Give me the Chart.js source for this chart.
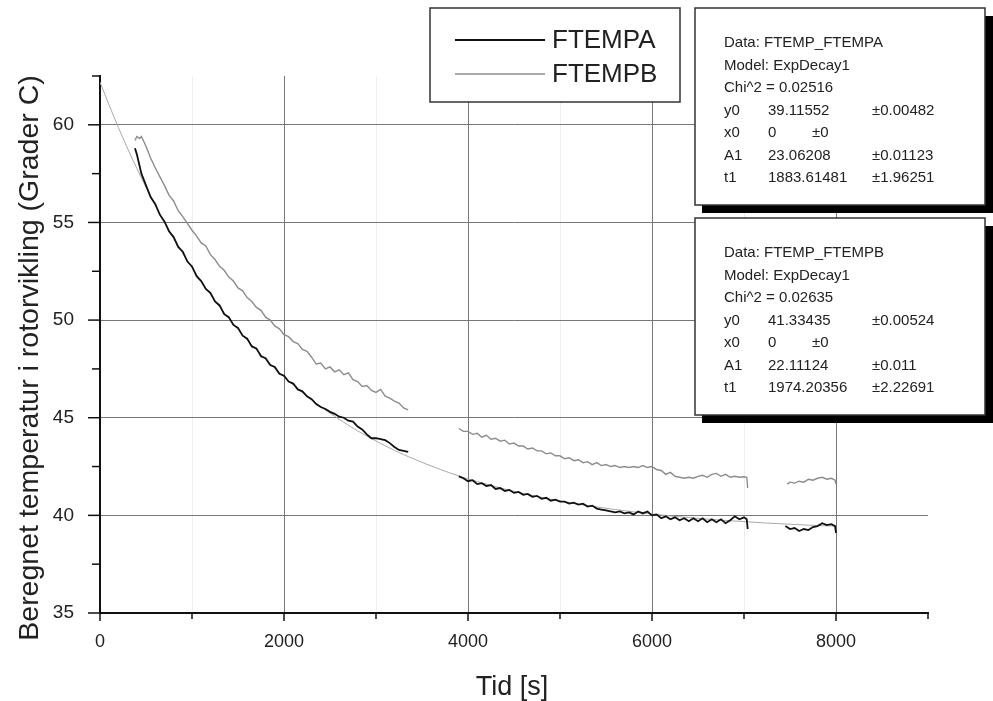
<!DOCTYPE html>
<html>
<head>
<meta charset="utf-8">
<script src="https://cdn.jsdelivr.net/npm/chart.js@4.4.0/dist/chart.umd.min.js"></script>
<style>
  html, body { margin: 0; padding: 0; background: #fff; }
</style>
</head>
<body>
<canvas id="c" width="993" height="701"></canvas>
<script>
// FTEMPA (null = gap in the record)
var timeA = [380, 400, 450, 500, 550, 600, 650, 700, 750, 800, 850, 900, 950, 1000, 1050, 1100, 1150, 1200, 1250, 1300,
  1350, 1400, 1450, 1500, 1550, 1600, 1650, 1700, 1750, 1800, 1850, 1900, 1950, 2000, 2050, 2100, 2150, 2200, 2250, 2300,
  2350, 2400, 2450, 2500, 2550, 2600, 2650, 2700, 2750, 2800, 2850, 2900, 2950, 3000, 3050, 3100, 3150, 3200, 3250, 3300, 3350,
  3600,
  3900, 3950, 4000, 4050, 4100, 4150, 4200, 4250, 4300, 4350, 4400, 4450, 4500, 4550, 4600, 4650, 4700, 4750, 4800, 4850,
  4900, 4950, 5000, 5050, 5100, 5150, 5200, 5250, 5300, 5350, 5400, 5450, 5500, 5550, 5600, 5650, 5700, 5750, 5800, 5850,
  5900, 5950, 6000, 6050, 6100, 6150, 6200, 6250, 6300, 6350, 6400, 6450, 6500, 6550, 6600, 6650, 6700, 6750, 6800, 6850,
  6900, 6950, 7000, 7030, 7040,
  7250,
  7450, 7500, 7550, 7600, 7650, 7700, 7750, 7800, 7850, 7900, 7950, 7990, 8000]
var tempA = [58.8, 58.5, 57.5, 56.9, 56.3, 55.95, 55.4, 55.05, 54.55, 54.25, 53.75, 53.5, 53.0, 52.75, 52.25, 52.0, 51.6, 51.4, 50.95, 50.75,
  50.3, 50.15, 49.75, 49.6, 49.2, 49.05, 48.65, 48.55, 48.15, 48.05, 47.7, 47.6, 47.25, 47.15, 46.85, 46.75, 46.45, 46.35, 46.1, 45.95,
  45.7, 45.55, 45.45, 45.3, 45.2, 45.05, 45.0, 44.85, 44.8, 44.55, 44.4, 44.15, 43.95, 43.95, 43.9, 43.85, 43.7, 43.5, 43.35, 43.3, 43.25,
  null,
  42.0, 41.9, 41.75, 41.8, 41.6, 41.65, 41.5, 41.55, 41.35, 41.4, 41.25, 41.3, 41.15, 41.2, 41.05, 41.1, 40.95, 41.0, 40.85, 40.9,
  40.75, 40.8, 40.7, 40.7, 40.6, 40.65, 40.55, 40.6, 40.45, 40.5, 40.35, 40.3, 40.25, 40.2, 40.15, 40.2, 40.1, 40.15, 40.05, 40.2,
  40.1, 40.2, 40.0, 40.05, 39.85, 39.95, 39.8, 39.9, 39.75, 39.85, 39.7, 39.85, 39.7, 39.85, 39.65, 39.8, 39.65, 39.8, 39.6, 39.75,
  39.95, 39.8, 39.9, 39.8, 39.3,
  null,
  39.45, 39.3, 39.35, 39.2, 39.3, 39.25, 39.4, 39.45, 39.6, 39.5, 39.55, 39.45, 39.1]

// FTEMPB
var timeB = [380, 400, 430, 450, 500, 550, 600, 650, 700, 750, 800, 850, 900, 950, 1000, 1050, 1100, 1150, 1200, 1250, 1300,
  1350, 1400, 1450, 1500, 1550, 1600, 1650, 1700, 1750, 1800, 1850, 1900, 1950, 2000, 2050, 2100, 2150, 2200, 2250, 2300,
  2350, 2400, 2450, 2500, 2550, 2600, 2650, 2700, 2750, 2800, 2850, 2900, 2950, 3000, 3050, 3100, 3150, 3200, 3250, 3300, 3350,
  3600,
  3900, 3950, 4000, 4050, 4100, 4150, 4200, 4250, 4300, 4350, 4400, 4450, 4500, 4550, 4600, 4650, 4700, 4750, 4800, 4850,
  4900, 4950, 5000, 5050, 5100, 5150, 5200, 5250, 5300, 5350, 5400, 5450, 5500, 5550, 5600, 5650, 5700, 5750, 5800, 5850,
  5900, 5950, 6000, 6050, 6100, 6150, 6200, 6250, 6300, 6350, 6400, 6450, 6500, 6550, 6600, 6650, 6700, 6750, 6800, 6850,
  6900, 6950, 7000, 7030, 7040,
  7250,
  7470, 7500, 7550, 7600, 7650, 7700, 7750, 7800, 7850, 7900, 7950, 7990, 8000]
var tempB = [59.2, 59.4, 59.3, 59.4, 58.9, 58.3, 57.8, 57.35, 56.9, 56.4, 56.1, 55.6, 55.3, 54.95, 54.6, 54.3, 53.95, 53.8, 53.35, 53.1, 52.75,
  52.55, 52.2, 52.0, 51.65, 51.5, 51.15, 50.95, 50.65, 50.5, 50.15, 50.0, 49.7, 49.55, 49.25, 49.15, 48.9, 48.8, 48.5, 48.4, 48.1,
  47.75, 47.8, 47.5, 47.6, 47.35, 47.45, 47.2, 47.3, 46.95, 46.85, 46.6, 46.65, 46.4, 46.3, 46.45, 46.1, 46.0, 45.85, 45.75, 45.5, 45.4,
  null,
  44.45, 44.3, 44.3, 44.15, 44.2, 44.0, 44.1, 43.9, 43.95, 43.8, 43.85, 43.65, 43.7, 43.55, 43.55, 43.4, 43.45, 43.3, 43.3, 43.15,
  43.2, 43.05, 43.05, 42.9, 42.95, 42.8, 42.85, 42.7, 42.75, 42.6, 42.7, 42.55, 42.6, 42.5, 42.55, 42.45, 42.5, 42.45, 42.5, 42.45,
  42.55, 42.45, 42.5, 42.35, 42.3, 42.1, 42.2, 42.0, 41.95, 41.9, 41.95, 41.9, 42.0, 42.05, 41.95, 42.1, 42.15, 42.0, 42.1, 41.95,
  42.0, 41.95, 41.98, 41.95, 41.4,
  null,
  41.6, 41.7, 41.65, 41.75, 41.7, 41.85, 41.8, 41.9, 41.95, 41.85, 41.9, 41.8, 41.6]

// ExpDecay1 fit curve of FTEMPA, read at every 200 s
var fitTime = [0, 200, 400, 600, 800, 1000, 1200, 1400, 1600, 1800, 2000, 2200, 2400, 2600, 2800, 3000, 3200, 3400, 3600, 3800,
  4000, 4200, 4400, 4600, 4800, 5000, 5200, 5400, 5600, 5800, 6000, 6200, 6400, 6600, 6800, 7000, 7200, 7400, 7600, 7800, 8000]
var fitA = [62.18, 59.86, 57.77, 55.89, 54.2, 52.68, 51.31, 50.08, 48.98, 47.99, 47.09, 46.29, 45.57, 44.92, 44.33, 43.81, 43.33, 42.91, 42.53, 42.18,
  41.87, 41.6, 41.35, 41.12, 40.92, 40.74, 40.57, 40.43, 40.3, 40.18, 40.07, 39.97, 39.89, 39.81, 39.74, 39.68, 39.62, 39.57, 39.52, 39.48, 39.45]

var xLabels = [0, 2000, 4000, 6000, 8000]
var yLabels = [35, 40, 45, 50, 55, 60]

var statsA = [
  ['Data: FTEMP_FTEMPA'],
  ['Model: ExpDecay1'],
  ['Chi^2 = 0.02516'],
  ['y0', '39.11552', '', '±0.00482'],
  ['x0', '0', '±0', ''],
  ['A1', '23.06208', '', '±0.01123'],
  ['t1', '1883.61481', '', '±1.96251']
]
var statsB = [
  ['Data: FTEMP_FTEMPB'],
  ['Model: ExpDecay1'],
  ['Chi^2 = 0.02635'],
  ['y0', '41.33435', '', '±0.00524'],
  ['x0', '0', '±0', ''],
  ['A1', '22.11124', '', '±0.011'],
  ['t1', '1974.20356', '', '±2.22691']
]

var FONT = '"Liberation Sans", Arial, sans-serif'

function pts(t, v) {
  return t.map(function (x, i) { return { x: x, y: v[i] } })
}

function drawStats(ctx, top, rows) {
  ctx.fillStyle = '#000'
  ctx.fillRect(702, top + 8, 300, 197)
  ctx.fillStyle = '#fff'
  ctx.fillRect(695, top, 290, 197)
  ctx.strokeStyle = '#333'
  ctx.lineWidth = 1.5
  ctx.strokeRect(695, top, 290, 197)
  ctx.fillStyle = '#222'
  ctx.font = '15px ' + FONT
  ctx.textAlign = 'left'
  ctx.textBaseline = 'middle'
  var cols = [724, 768, 812, 872]
  rows.forEach(function (r, i) {
    var y = top + 35 + i * 22.5
    r.forEach(function (s, j) { if (s) ctx.fillText(s, cols[j], y) })
  })
}

var decor = {
  id: 'decor',
  afterDraw: function (chart) {
    var ctx = chart.ctx
    var xs = chart.scales.x, ys = chart.scales.y, area = chart.chartArea
    ctx.save()
    ctx.strokeStyle = '#111'
    ctx.lineWidth = 1.5
    xs.ticks.forEach(function (t) {
      var px = xs.getPixelForValue(t.value)
      var len = t.value % 2000 === 0 ? 8 : 6
      ctx.beginPath(); ctx.moveTo(px, area.bottom); ctx.lineTo(px, area.bottom + len); ctx.stroke()
    })
    ys.ticks.forEach(function (t) {
      var py = ys.getPixelForValue(t.value)
      var len = t.value % 5 === 0 ? 12 : 8
      ctx.beginPath(); ctx.moveTo(area.left, py); ctx.lineTo(area.left - len, py); ctx.stroke()
    })

    // axis titles
    ctx.fillStyle = '#222'
    ctx.font = '27px ' + FONT
    ctx.textAlign = 'center'
    ctx.textBaseline = 'middle'
    ctx.fillText('Tid [s]', 512, 688)
    ctx.save()
    ctx.translate(30, 358)
    ctx.rotate(-Math.PI / 2)
    ctx.font = '28.5px ' + FONT
    ctx.fillText('Beregnet temperatur i rotorvikling (Grader C)', 0, 0)
    ctx.restore()

    // legend box
    ctx.fillStyle = '#fff'
    ctx.fillRect(430, 8, 250, 94)
    ctx.strokeStyle = '#333'
    ctx.lineWidth = 1.5
    ctx.strokeRect(430, 8, 250, 94)
    var sets = chart.data.datasets
    ;[[sets[0], 40], [sets[1], 74]].forEach(function (e) {
      ctx.strokeStyle = e[0].borderColor
      ctx.lineWidth = e[0].borderWidth
      ctx.beginPath(); ctx.moveTo(455, e[1]); ctx.lineTo(545, e[1]); ctx.stroke()
      ctx.fillStyle = '#222'
      ctx.font = '26px ' + FONT
      ctx.textAlign = 'left'
      ctx.fillText(e[0].label, 552, e[1] + 1)
    })

    drawStats(ctx, 8, statsA)
    drawStats(ctx, 218, statsB)
    ctx.restore()
  }
}

new Chart(document.getElementById('c'), {
  type: 'line',
  data: {
    datasets: [
      { label: 'FTEMPA', data: pts(timeA, tempA), borderColor: '#111', borderWidth: 1.8, pointRadius: 0, tension: 0 },
      { label: 'FTEMPB', data: pts(timeB, tempB), borderColor: '#8c8c8c', borderWidth: 1.4, pointRadius: 0, tension: 0 },
      { label: 'ExpDecay1', data: pts(fitTime, fitA), borderColor: '#a8a8a8', borderWidth: 1, pointRadius: 0, tension: 0.3 }
    ]
  },
  options: {
    responsive: false,
    animation: false,
    layout: { padding: { top: 76, right: 65, bottom: 0, left: 0 } },
    plugins: { legend: { display: false }, tooltip: { enabled: false } },
    scales: {
      x: {
        type: 'linear',
        min: 0,
        max: 9000,
        afterFit: function (s) { s.height = 88 },
        border: { color: '#111', width: 2 },
        grid: {
          drawTicks: false,
          lineWidth: 1,
          color: function (c) {
            var v = c.tick.value
            if (v === 9000) return 'rgba(0,0,0,0)'
            return v % 2000 === 0 ? '#777' : '#eeeeee'
          }
        },
        ticks: {
          stepSize: 1000,
          autoSkip: false,
          maxRotation: 0,
          padding: 18,
          color: '#222',
          font: { size: 18, family: FONT },
          callback: function (v) { return xLabels.indexOf(v) >= 0 ? String(v) : '' }
        }
      },
      y: {
        min: 35,
        max: 62.5,
        afterFit: function (s) { s.width = 100 },
        border: { color: '#111', width: 2 },
        grid: {
          drawTicks: false,
          lineWidth: 1,
          color: function (c) {
            var v = c.tick.value
            return (v % 5 === 0 && v > 35) ? '#777' : 'rgba(0,0,0,0)'
          }
        },
        ticks: {
          stepSize: 2.5,
          autoSkip: false,
          padding: 26,
          color: '#222',
          font: { size: 19, family: FONT },
          callback: function (v) { return yLabels.indexOf(v) >= 0 ? String(v) : '' }
        }
      }
    }
  },
  plugins: [decor]
})
</script>
</body>
</html>
